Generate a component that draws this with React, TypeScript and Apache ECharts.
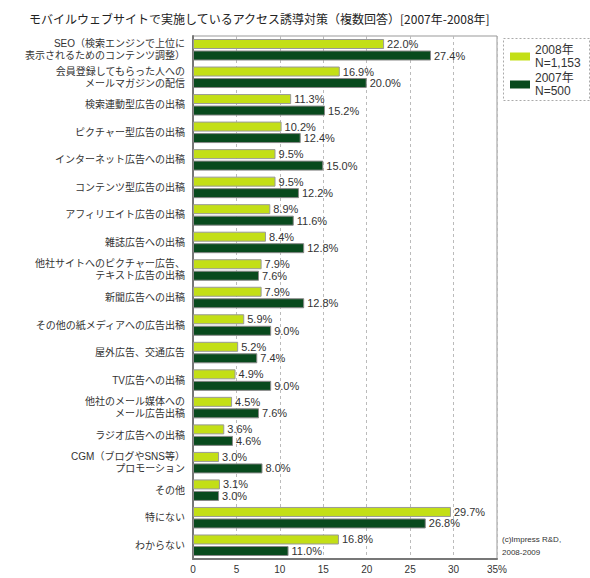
import React, { useEffect, useRef } from "react";
import * as echarts from "echarts";

const categories = [
  "SEO（検索エンジンで上位に\n表示されるためのコンテンツ調整）",
  "会員登録してもらった人への\nメールマガジンの配信",
  "検索連動型広告の出稿",
  "ピクチャー型広告の出稿",
  "インターネット広告への出稿",
  "コンテンツ型広告の出稿",
  "アフィリエイト広告の出稿",
  "雑誌広告への出稿",
  "他社サイトへのピクチャー広告、\nテキスト広告の出稿",
  "新聞広告への出稿",
  "その他の紙メディアへの広告出稿",
  "屋外広告、交通広告",
  "TV広告への出稿",
  "他社のメール媒体への\nメール広告出稿",
  "ラジオ広告への出稿",
  "CGM（ブログやSNS等）\nプロモーション",
  "その他",
  "特にない",
  "わからない",
];

const values2008 = [22.0, 16.9, 11.3, 10.2, 9.5, 9.5, 8.9, 8.4, 7.9, 7.9, 5.9, 5.2, 4.9, 4.5, 3.6, 3.0, 3.1, 29.7, 16.8];
const values2007 = [27.4, 20.0, 15.2, 12.4, 15.0, 12.2, 11.6, 12.8, 7.6, 12.8, 9.0, 7.4, 9.0, 7.6, 4.6, 8.0, 3.0, 26.8, 11.0];

const seriesNames = ["2008年\nN=1,153", "2007年\nN=500"];
const titleText = "モバイルウェブサイトで実施しているアクセス誘導対策（複数回答）[2007年-2008年]";
const creditText = "(c)Impress R&D,\n2008-2009";

const LIGHT = "#c3df16";
const DARK = "#084a1d";
const LATIN = "'Liberation Sans', Arial, 'Noto Sans CJK JP', sans-serif";
const JP = "'Noto Sans CJK JP', sans-serif";

export default function App() {
  const ref = useRef<HTMLDivElement>(null);
  useEffect(() => {
    if (!ref.current) return;
    const chart = echarts.init(ref.current, undefined, { renderer: "svg" });
    const label = {
      show: true,
      position: "right" as const,
      distance: 3,
      fontSize: 11,
      fontFamily: LATIN,
      color: "#333",
      formatter: (p: any) => p.value.toFixed(1) + "%",
    };
    chart.setOption({
      animation: false,
      backgroundColor: "#fff",
      title: {
        text: titleText,
        left: 24,
        top: 7,
        textStyle: { fontSize: 12, fontWeight: "normal", color: "#222", fontFamily: JP },
      },
      grid: {
        left: 193,
        right: 93,
        top: 36,
        bottom: 19,
        show: true,
        borderColor: "#999",
        borderWidth: 1,
      },
      legend: {
        left: 505,
        top: 38,
        orient: "vertical",
        itemWidth: 20,
        itemHeight: 8,
        itemGap: 1,
        icon: "rect",
        textStyle: { fontSize: 12, lineHeight: 13.5, color: "#333", fontFamily: LATIN },
        data: [
          { name: seriesNames[0], itemStyle: { color: LIGHT, borderWidth: 0 } },
          { name: seriesNames[1], itemStyle: { color: DARK, borderWidth: 0 } },
        ],
      },
      xAxis: {
        type: "value",
        min: 0,
        max: 35,
        interval: 5,
        axisLine: { show: true, lineStyle: { color: "#777", width: 2 } },
        axisTick: { show: false },
        splitLine: { show: true, lineStyle: { color: "#bbb", type: [3, 3] } },
        axisLabel: {
          fontSize: 10,
          color: "#333",
          fontFamily: LATIN,
          margin: 5,
          formatter: (v: number) => (v === 35 ? "35%" : String(v)),
        },
      },
      yAxis: {
        type: "category",
        inverse: true,
        data: categories,
        axisLine: { show: true, lineStyle: { color: "#777", width: 2 } },
        axisTick: { show: false },
        axisLabel: { fontSize: 10, lineHeight: 12, color: "#333", fontFamily: LATIN, margin: 8 },
      },
      series: [
        {
          name: seriesNames[0],
          type: "bar",
          data: values2008,
          barWidth: 10,
          barGap: "15%",
          itemStyle: { color: LIGHT, borderColor: "#999", borderWidth: 1 },
          label,
        },
        {
          name: seriesNames[1],
          type: "bar",
          data: values2007,
          barWidth: 10,
          barGap: "15%",
          itemStyle: { color: DARK, borderColor: "#888", borderWidth: 1 },
          label,
        },
      ],
      graphic: [
        {
          type: "rect",
          left: 501,
          top: 36,
          shape: { width: 86, height: 62 },
          style: { fill: "none", stroke: "#aaa", lineWidth: 1, lineDash: [2, 2] },
          silent: true,
        },
        {
          type: "text",
          left: 502,
          top: 533,
          style: { text: creditText, fontSize: 8, lineHeight: 13, fill: "#333", fontFamily: LATIN },
        },
      ],
    });
    return () => chart.dispose();
  }, []);
  return <div ref={ref} style={{ position: "fixed", left: 0, top: 0, width: 590, height: 578 }} />;
}
